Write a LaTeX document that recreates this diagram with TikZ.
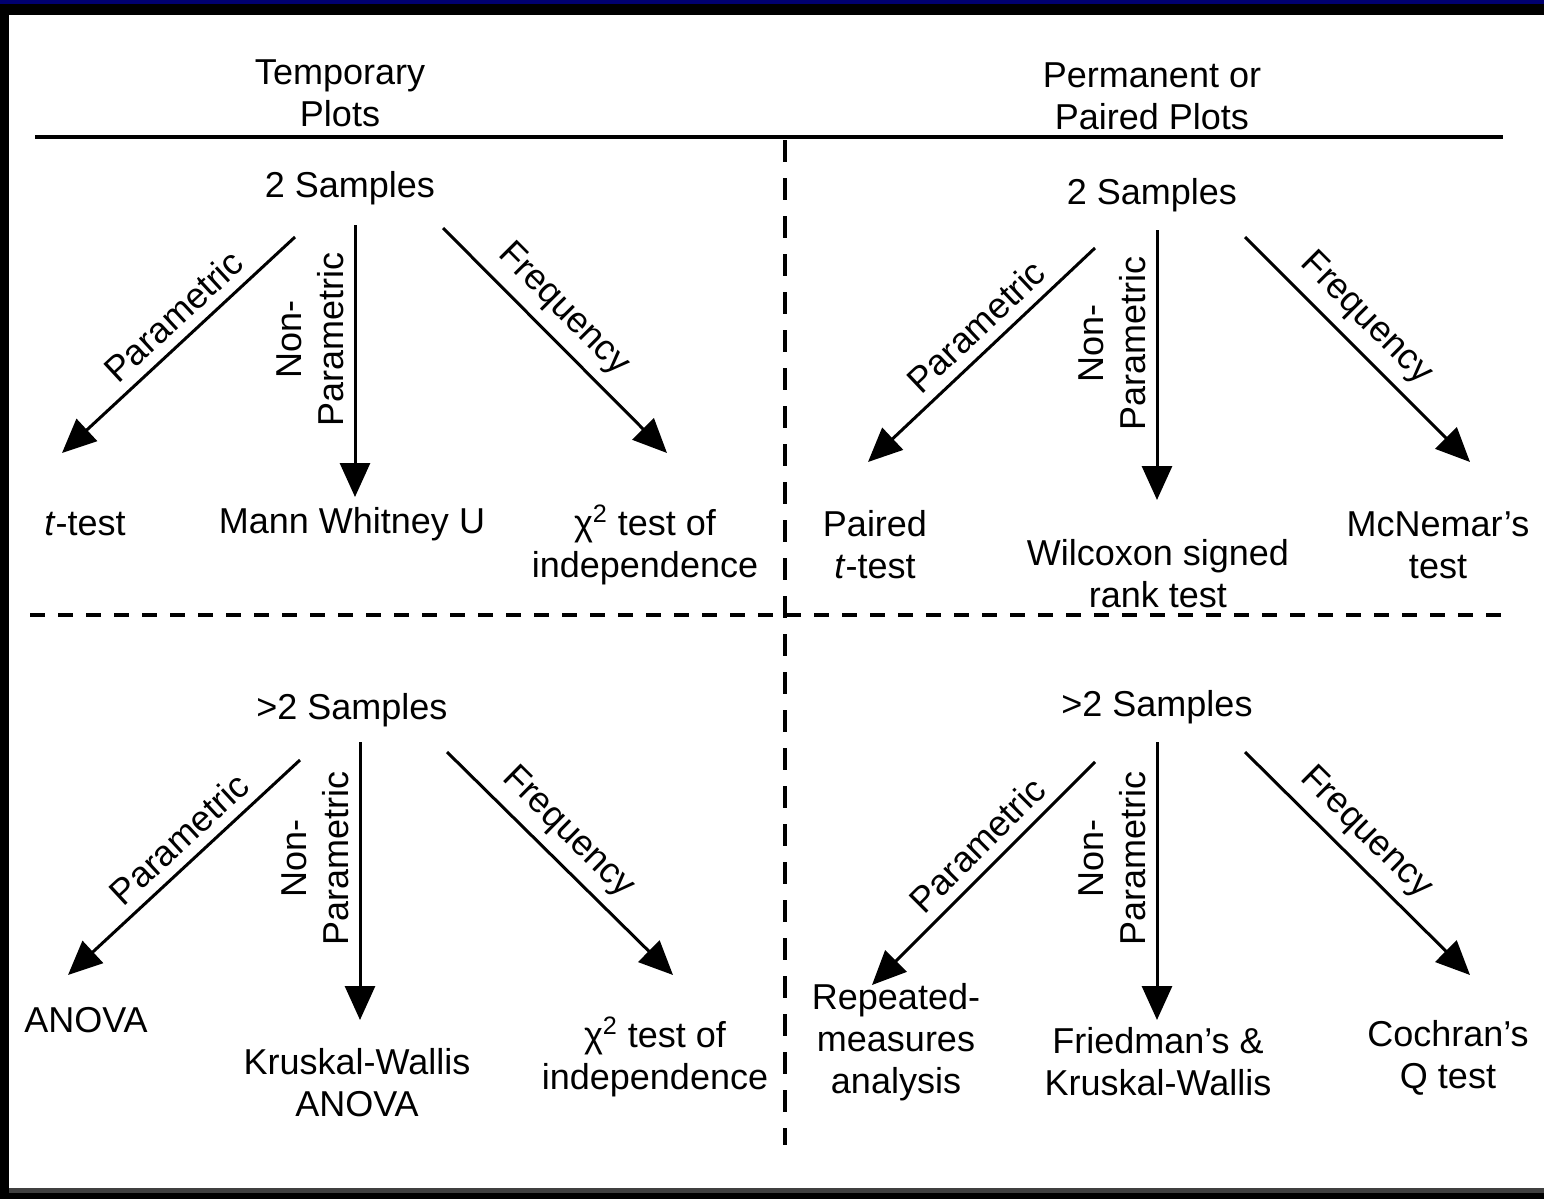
\documentclass[tikz,border=0pt]{standalone}
\usepackage{fontspec}
\setmainfont{Liberation Sans}
\usetikzlibrary{arrows.meta}

\definecolor{edgeblue}{RGB}{0,0,112}
\definecolor{edgegray}{RGB}{64,64,64}

\begin{document}
\begin{tikzpicture}[x=0.5pt,y=-0.5pt,
    txt/.style={align=center,inner sep=0pt,font=\fontsize{18}{21}\selectfont},
    arr/.style={line width=1.5pt,-{Triangle[length=17pt,width=15pt]}},
    rarr/.style={line width=1.5pt,{Triangle[length=17pt,width=15pt]}-},
    lbl/.style={sloped,above,inner sep=5pt,align=center,font=\fontsize{18}{21}\selectfont}]
    \useasboundingbox (0,0) rectangle (1544,1199);

    % frame
    \fill[black] (0,0) rectangle (1544,1199);
    \fill[white] (9,15) rectangle (1544,1188);
    \fill[edgeblue] (0,0) rectangle (1544,4);
    \fill[edgegray] (9,1188) rectangle (1544,1193);

    % headings and dividers
    \node[txt] (hd-tmp) at (340,93) {Temporary\\Plots};
    \node[txt] (hd-prm) at (1152,96) {Permanent or\\Paired Plots};
    \coordinate (rule-l) at (35,137);
    \coordinate (rule-r) at (1503,137);
    \coordinate (vdiv-t) at (785,140);
    \coordinate (vdiv-b) at (785,1145);
    \coordinate (hdiv-l) at (30,615);
    \coordinate (hdiv-r) at (1512,615);
    \draw[line width=2pt] (rule-l) -- (rule-r);
    \draw[line width=2pt,dash pattern=on 11pt off 8pt] (vdiv-t) -- (vdiv-b);
    \draw[line width=2pt,dash pattern=on 7.5pt off 6.5pt] (hdiv-l) -- (hdiv-r);

    % temporary plots, 2 samples
    \node[txt] (tl-src) at (350,188) {2 Samples};
    \node[txt] (tl-a) at (85,524) {\textit{t}-test};
    \node[txt] (tl-b) at (352,524) {Mann Whitney U};
    \node[txt] (tl-c) at (645,545) {χ\textsuperscript{2} test of\\independence};
    \coordinate (tl-p1) at (295,237);  \coordinate (tl-p2) at (62,453);
    \coordinate (tl-n1) at (355,225);  \coordinate (tl-n2) at (355,497);
    \coordinate (tl-f1) at (443,228);  \coordinate (tl-f2) at (667,453);
    \draw[rarr] (tl-p2) -- node[lbl,pos=0.55] {Parametric} (tl-p1);
    \draw[rarr] (tl-n2) -- node[lbl,pos=0.58] {Non-\\Parametric} (tl-n1);
    \draw[arr] (tl-f1) -- node[lbl,pos=0.45] {Frequency} (tl-f2);

    % paired plots, 2 samples
    \node[txt] (tr-src) at (1152,195) {2 Samples};
    \node[txt] (tr-a) at (875,545) {Paired\\\textit{t}-test};
    \node[txt] (tr-b) at (1158,574) {Wilcoxon signed\\rank test};
    \node[txt] (tr-c) at (1438,545) {McNemar's\\test};
    \coordinate (tr-p1) at (1095,248); \coordinate (tr-p2) at (868,462);
    \coordinate (tr-n1) at (1157,230); \coordinate (tr-n2) at (1157,500);
    \coordinate (tr-f1) at (1245,237); \coordinate (tr-f2) at (1470,462);
    \draw[rarr] (tr-p2) -- node[lbl,pos=0.55] {Parametric} (tr-p1);
    \draw[rarr] (tr-n2) -- node[lbl,pos=0.58] {Non-\\Parametric} (tr-n1);
    \draw[arr] (tr-f1) -- node[lbl,pos=0.45] {Frequency} (tr-f2);

    % temporary plots, more than 2 samples
    \node[txt] (bl-src) at (352,710) {>2 Samples};
    \node[txt] (bl-a) at (86,1020) {ANOVA};
    \node[txt] (bl-b) at (357,1083) {Kruskal-Wallis\\ANOVA};
    \node[txt] (bl-c) at (655,1057) {χ\textsuperscript{2} test of\\independence};
    \coordinate (bl-p1) at (300,760);  \coordinate (bl-p2) at (68,975);
    \coordinate (bl-n1) at (360,742);  \coordinate (bl-n2) at (360,1020);
    \coordinate (bl-f1) at (447,752);  \coordinate (bl-f2) at (673,975);
    \draw[rarr] (bl-p2) -- node[lbl,pos=0.55] {Parametric} (bl-p1);
    \draw[rarr] (bl-n2) -- node[lbl,pos=0.58] {Non-\\Parametric} (bl-n1);
    \draw[arr] (bl-f1) -- node[lbl,pos=0.45] {Frequency} (bl-f2);

    % paired plots, more than 2 samples
    \node[txt] (br-src) at (1157,707) {>2 Samples};
    \node[txt] (br-a) at (896,1042) {Repeated-\\measures\\analysis};
    \node[txt] (br-b) at (1158,1062) {Friedman's \&\\Kruskal-Wallis};
    \node[txt] (br-c) at (1448,1058) {Cochran's\\Q test};
    \coordinate (br-p1) at (1095,762); \coordinate (br-p2) at (872,985);
    \coordinate (br-n1) at (1157,742); \coordinate (br-n2) at (1157,1020);
    \coordinate (br-f1) at (1245,752); \coordinate (br-f2) at (1470,975);
    \draw[rarr] (br-p2) -- node[lbl,pos=0.55] {Parametric} (br-p1);
    \draw[rarr] (br-n2) -- node[lbl,pos=0.58] {Non-\\Parametric} (br-n1);
    \draw[arr] (br-f1) -- node[lbl,pos=0.45] {Frequency} (br-f2);
\end{tikzpicture}
\end{document}
